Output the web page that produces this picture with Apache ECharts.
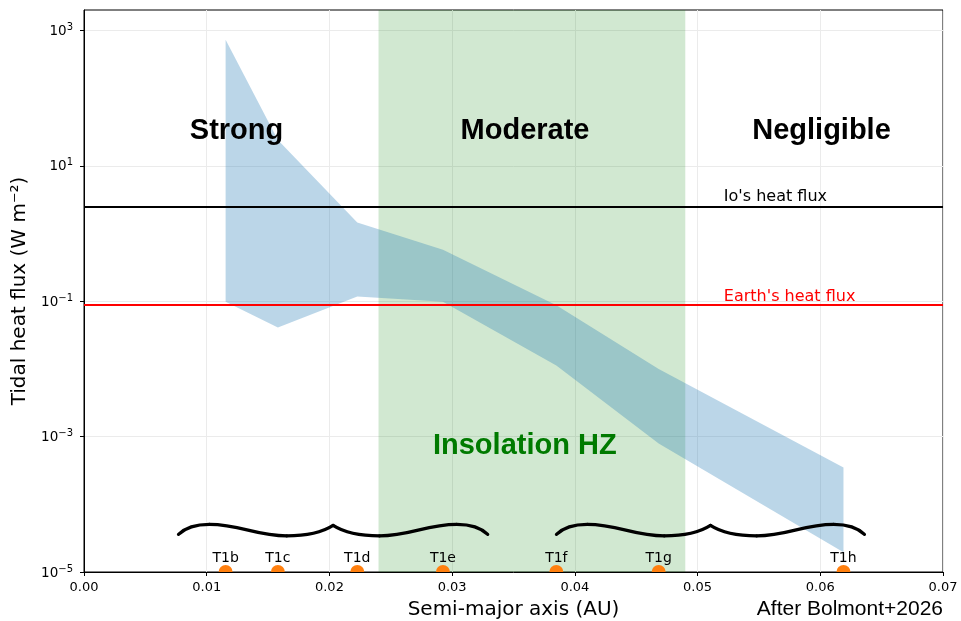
<!DOCTYPE html>
<html>
<head>
<meta charset="utf-8">
<script src="https://cdn.jsdelivr.net/npm/echarts@6/dist/echarts.min.js"></script>
<style>
  html, body { margin: 0; padding: 0; background: #fff; }
  #chart { width: 961px; height: 621px; }
</style>
</head>
<body>
<div id="chart"></div>
<script>
// TRAPPIST-1 planets and the tidal heat flux range at each one
var planetNames = ['T1b', 'T1c', 'T1d', 'T1e', 'T1f', 'T1g', 'T1h'];
var semiMajor = [0.01154, 0.0158, 0.02227, 0.02925, 0.03849, 0.04683, 0.06189];
var fluxMax = [725, 24, 1.45, 0.575, 0.087, 0.01, 3.5e-4];
var fluxMin = [0.098, 0.041, 0.117, 0.098, 0.0112, 7.9e-4, 1.95e-5];

// reference heat fluxes (W m-2)
var ioFlux = 2.45;
var earthFlux = 0.086;

// insolation habitable zone (AU)
var hzEdges = [0.024, 0.049];

var regionNames = ['Strong', 'Moderate', 'Negligible'];

// axes
var xTicks = [0, 0.01, 0.02, 0.03, 0.04, 0.05, 0.06, 0.07];
var xTickLabels = ['0.00', '0.01', '0.02', '0.03', '0.04', '0.05', '0.06', '0.07'];
var yTicks = [1e-5, 1e-3, 1e-1, 1e1, 1e3];
var yTickExp = ['\u22125', '\u22123', '\u22121', '1', '3'];
var yMin = 1e-5, yMax = 2000;

var sans = 'DejaVu Sans';
var helv = 'Liberation Sans';

var myChart = echarts.init(document.getElementById('chart'));

// shaded band between min and max flux, one polygon
function renderBand(params, api) {
  if (params.dataIndex !== 0) return null;
  var pts = [];
  for (var i = 0; i < semiMajor.length; i++) pts.push(api.coord([semiMajor[i], fluxMax[i]]));
  for (var j = semiMajor.length - 1; j >= 0; j--) pts.push(api.coord([semiMajor[j], fluxMin[j]]));
  return {
    type: 'polygon',
    shape: { points: pts },
    style: { fill: 'rgba(31,119,180,0.3)', stroke: null }
  };
}

// planet dot sitting on the x axis (clipped to the plot) with its name
function renderPlanet(params, api) {
  var p = api.coord([api.value(0), api.value(1)]);
  return {
    type: 'group',
    children: [
      { type: 'circle', shape: { cx: p[0], cy: p[1], r: 7 }, style: { fill: '#ff7f0e' } },
      {
        type: 'text', x: p[0], y: p[1] - 7,
        style: {
          text: planetNames[params.dataIndex], fill: '#000',
          font: '14px "DejaVu Sans"', align: 'center', verticalAlign: 'bottom'
        }
      }
    ]
  };
}

// curly braces above the planets
var braceLevel = 3.6e-5;
function renderBrace(params, api) {
  var l = api.coord([api.value(0), braceLevel]);
  var r = api.coord([api.value(1), braceLevel]);
  var xm = (l[0] + r[0]) / 2, yb = l[1], hw = xm - l[0];
  // fraction from outer end toward the tip, pixel offset in y
  var segs = [
    [[0, 0], [0.04, -6], [0.1, -10], [0.2, -10]],
    [[0.2, -10], [0.4, -10], [0.5, 1.5], [0.7, 1.5]],
    [[0.7, 1.5], [0.86, 1.5], [0.95, -4], [1, -9]]
  ];
  var children = [];
  [-1, 1].forEach(function (side) {
    var x0 = side < 0 ? l[0] : r[0];
    segs.forEach(function (s) {
      var X = function (p) { return x0 - side * p[0] * hw; };
      children.push({
        type: 'bezierCurve',
        shape: {
          x1: X(s[0]), y1: yb + s[0][1],
          cpx1: X(s[1]), cpy1: yb + s[1][1],
          cpx2: X(s[2]), cpy2: yb + s[2][1],
          x2: X(s[3]), y2: yb + s[3][1]
        },
        style: { stroke: '#000', lineWidth: 3.2, fill: 'none', lineCap: 'round' }
      });
    });
  });
  return { type: 'group', children: children };
}

var option = {
  animation: false,
  backgroundColor: '#fff',
  grid: {
    left: 84, right: 18, top: 10, bottom: 49,
    containLabel: false, outerBoundsMode: 'none',
    show: true, borderColor: '#000', borderWidth: 1, backgroundColor: 'transparent'
  },
  xAxis: {
    type: 'value',
    min: 0, max: 0.07, interval: 0.01,
    name: 'Semi-major axis (AU)',
    nameLocation: 'middle',
    nameGap: 28,
    nameTextStyle: { fontFamily: sans, fontSize: 20, color: '#000' },
    axisLine: { lineStyle: { color: '#000', width: 1 } },
    axisTick: { length: 4, lineStyle: { color: '#000' } },
    axisLabel: {
      fontFamily: sans, fontSize: 13, color: '#000', margin: 9,
      formatter: function (v) {
        for (var i = 0; i < xTicks.length; i++) if (Math.abs(xTicks[i] - v) < 1e-9) return xTickLabels[i];
        return '';
      }
    },
    splitLine: { show: true, lineStyle: { color: '#ebebeb', width: 1 } }
  },
  yAxis: {
    type: 'log',
    logBase: 10,
    min: yMin, max: yMax,
    name: 'Tidal heat flux (W m\u207B\u00B2)',
    nameLocation: 'middle',
    nameGap: 50,
    nameTextStyle: { fontFamily: sans, fontSize: 20, color: '#000' },
    axisLine: { lineStyle: { color: '#000', width: 1 } },
    axisTick: { length: 4, lineStyle: { color: '#000' }, customValues: yTicks },
    axisLabel: {
      fontFamily: sans, fontSize: 13, color: '#000', margin: 11,
      customValues: yTicks,
      formatter: function (v) {
        for (var i = 0; i < yTicks.length; i++) {
          if (Math.abs(Math.log10(yTicks[i]) - Math.log10(v)) < 1e-6) return '{b|10}{s|' + yTickExp[i] + '}';
        }
        return '';
      },
      rich: {
        b: { fontFamily: sans, fontSize: 13.5, color: '#000', lineHeight: 16, verticalAlign: 'bottom' },
        s: { fontFamily: sans, fontSize: 10, color: '#000', lineHeight: 16, verticalAlign: 'top', padding: [0, 0, 6, 0] }
      }
    },
    splitLine: { show: true, lineStyle: { color: '#ebebeb', width: 1 } },
    minorTick: { show: false }
  },
  series: [
    {
      // habitable zone
      type: 'line', data: [], z: 1, silent: true,
      markArea: {
        silent: true,
        itemStyle: { color: 'rgba(0,128,0,0.18)' },
        data: [[{ xAxis: hzEdges[0] }, { xAxis: hzEdges[1] }]]
      }
    },
    {
      type: 'custom', z: 2, silent: true,
      renderItem: renderBand,
      data: semiMajor.map(function (a, i) { return [a, fluxMax[i], fluxMin[i]]; })
    },
    {
      // Io and Earth reference lines
      type: 'line', data: [], z: 3, silent: true,
      markLine: {
        silent: true, symbol: 'none', animation: false,
        label: { show: false },
        data: [
          { yAxis: ioFlux, lineStyle: { color: '#000', width: 2, type: 'solid' } },
          { yAxis: earthFlux, lineStyle: { color: '#ff0000', width: 2, type: 'solid' } }
        ]
      }
    },
    {
      type: 'custom', z: 3, silent: true,
      renderItem: renderBrace,
      encode: { x: [0, 1] },
      data: [[0.0077, 0.0329], [0.0385, 0.0636]]
    },
    {
      // planets on the bottom axis
      type: 'custom', z: 4, silent: true, clip: true,
      renderItem: renderPlanet,
      data: semiMajor.map(function (a) { return [a, yMin]; })
    },
    {
      // region titles
      type: 'scatter', z: 5, silent: true, symbolSize: 1,
      itemStyle: { color: 'rgba(0,0,0,0)', opacity: 1 },
      label: {
        show: true, position: 'inside', formatter: '{b}', opacity: 1,
        fontFamily: helv, fontWeight: 'bold', fontSize: 29, color: '#000',
        textBorderWidth: 0
      },
      data: [
        { name: regionNames[0], value: [0.01243, 33] },
        { name: regionNames[1], value: [0.03594, 33] },
        { name: regionNames[2], value: [0.0601, 33] },
        { name: 'Insolation HZ', value: [0.03592, 7.3e-4], label: { color: '#007a00' } }
      ]
    },
    {
      type: 'scatter', z: 5, silent: true, symbolSize: 1,
      itemStyle: { color: 'rgba(0,0,0,0)', opacity: 1 },
      label: {
        show: true, position: 'right', distance: 0, formatter: '{b}', opacity: 1,
        fontFamily: sans, fontSize: 16, color: '#000'
      },
      data: [
        { name: "Io's heat flux", value: [0.0521, 3.5] },
        { name: "Earth's heat flux", value: [0.0521, 0.114], label: { color: '#ff0000' } }
      ]
    }
  ],
  graphic: [
    {
      type: 'text', right: 18, top: 599,
      style: { text: 'After Bolmont+2026', font: '21px "Liberation Sans"', fill: '#000' }
    }
  ]
};

myChart.setOption(option);
</script>
</body>
</html>
